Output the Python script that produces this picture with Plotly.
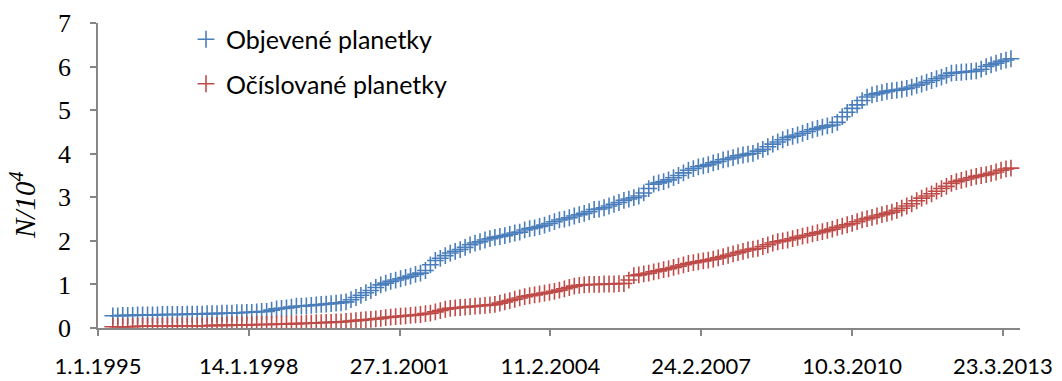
import pandas as pd
import plotly.graph_objects as go

# sampling: one value every 0.1 year from 1995.3 to 2013.4
start_date = "1995-04-20"
n_points = 182

objevene = [
    0.28, 0.28, 0.29, 0.29, 0.29, 0.30, 0.30,
    0.30, 0.30, 0.30, 0.31, 0.31, 0.31, 0.31, 0.31, 0.32, 0.32,
    0.32, 0.32, 0.33, 0.33, 0.33, 0.34, 0.34, 0.34, 0.35, 0.35,
    0.36, 0.36, 0.37, 0.38, 0.38, 0.41, 0.44, 0.45, 0.46, 0.48,
    0.50, 0.50, 0.51, 0.52, 0.53, 0.54, 0.55, 0.56, 0.57, 0.58,
    0.60, 0.65, 0.70, 0.75, 0.81, 0.86, 0.93, 0.99, 1.03, 1.07,
    1.10, 1.13, 1.16, 1.19, 1.23, 1.26, 1.32, 1.45, 1.55, 1.60,
    1.66, 1.72, 1.76, 1.80, 1.85, 1.91, 1.95, 1.98, 2.02, 2.05,
    2.08, 2.10, 2.12, 2.15, 2.18, 2.20, 2.25, 2.28, 2.30, 2.33,
    2.36, 2.40, 2.44, 2.48, 2.50, 2.53, 2.57, 2.60, 2.63, 2.67,
    2.72, 2.73, 2.76, 2.80, 2.84, 2.88, 2.93, 2.96, 2.99, 3.03,
    3.10, 3.20, 3.30, 3.33, 3.36, 3.40, 3.45, 3.50, 3.56, 3.62,
    3.66, 3.70, 3.72, 3.75, 3.79, 3.82, 3.86, 3.88, 3.91, 3.95,
    3.97, 3.99, 4.01, 4.06, 4.10, 4.16, 4.22, 4.27, 4.32, 4.37,
    4.40, 4.43, 4.47, 4.51, 4.55, 4.58, 4.61, 4.64, 4.66, 4.72,
    4.85, 4.95, 5.04, 5.12, 5.22, 5.30, 5.35, 5.38, 5.40, 5.43,
    5.45, 5.46, 5.48, 5.50, 5.53, 5.57, 5.60, 5.64, 5.68, 5.72,
    5.76, 5.80, 5.85, 5.86, 5.87, 5.88, 5.89, 5.90, 5.94, 6.00,
    6.04, 6.08, 6.12, 6.15, 6.18,
]

ocislovane = [
    0.03, 0.03, 0.03, 0.03, 0.03, 0.04, 0.04,
    0.04, 0.04, 0.04, 0.04, 0.04, 0.04, 0.05, 0.05, 0.05, 0.05,
    0.05, 0.05, 0.05, 0.06, 0.06, 0.06, 0.06, 0.07, 0.07, 0.07,
    0.07, 0.07, 0.08, 0.08, 0.08, 0.08, 0.09, 0.09, 0.09, 0.10,
    0.10, 0.10, 0.11, 0.11, 0.12, 0.12, 0.13, 0.13, 0.14, 0.14,
    0.15, 0.16, 0.17, 0.18, 0.19, 0.20, 0.21, 0.22, 0.24, 0.25,
    0.26, 0.27, 0.28, 0.29, 0.30, 0.31, 0.33, 0.34, 0.37, 0.40,
    0.43, 0.45, 0.46, 0.47, 0.48, 0.49, 0.50, 0.51, 0.52, 0.53,
    0.54, 0.57, 0.60, 0.63, 0.66, 0.69, 0.72, 0.74, 0.76, 0.78,
    0.80, 0.82, 0.84, 0.87, 0.90, 0.93, 0.96, 0.98, 0.99, 1.00,
    1.00, 1.00, 1.01, 1.01, 1.01, 1.02, 1.02, 1.10, 1.20, 1.22,
    1.24, 1.26, 1.29, 1.31, 1.34, 1.36, 1.39, 1.42, 1.45, 1.48,
    1.50, 1.52, 1.54, 1.56, 1.58, 1.61, 1.64, 1.67, 1.70, 1.73,
    1.76, 1.79, 1.81, 1.83, 1.87, 1.91, 1.95, 1.98, 2.00, 2.02,
    2.05, 2.08, 2.11, 2.13, 2.16, 2.19, 2.21, 2.24, 2.27, 2.31,
    2.34, 2.37, 2.40, 2.44, 2.48, 2.51, 2.54, 2.57, 2.60, 2.63,
    2.66, 2.70, 2.75, 2.80, 2.85, 2.92, 2.98, 3.03, 3.08, 3.14,
    3.20, 3.25, 3.32, 3.36, 3.39, 3.42, 3.45, 3.48, 3.50, 3.52,
    3.55, 3.58, 3.62, 3.65, 3.67,
]

tick_dates = ["1995-01-01", "1998-01-14", "2001-01-27", "2004-02-11",
              "2007-02-24", "2010-03-10", "2013-03-23"]
tick_labels = ["1.1.1995", "14.1.1998", "27.1.2001", "11.2.2004",
               "24.2.2007", "10.3.2010", "23.3.2013"]
y_ticks = [0, 1, 2, 3, 4, 5, 6, 7]

dates = pd.date_range(start_date, periods=n_points, freq="876h")

BLUE = "#4A7EBB"
RED = "#BE4B48"
AXIS = "#868686"

fig = go.Figure()
fig.add_trace(go.Scatter(
    x=dates, y=objevene, mode="markers", name="Objevené planetky",
    legendgroup="a",
    marker=dict(symbol="cross-thin", size=12, line=dict(color=BLUE, width=1.6), color=BLUE),
))
fig.add_trace(go.Scatter(
    x=dates, y=ocislovane, mode="markers", name="Očíslované planetky",
    legendgroup="b",
    marker=dict(symbol="cross-thin", size=12, line=dict(color=RED, width=1.6), color=RED),
))

fig.update_layout(
    width=1062, height=381,
    margin=dict(l=98, r=42, t=23, b=53, autoexpand=False),
    paper_bgcolor="white", plot_bgcolor="white",
    showlegend=True,
    legend=dict(
        x=(186 - 98) / 922, xanchor="left",
        yref="container", y=1 - 16.5 / 381, yanchor="top",
        font=dict(family="Lato, Open Sans, sans-serif", size=25, color="#000000"),
        traceorder="grouped", tracegroupgap=9,
        bgcolor="rgba(0,0,0,0)", itemwidth=30,
    ),
    xaxis=dict(
        type="date", automargin=False,
        range=["1995-01-01", "2013-07-27"],
        tickmode="array", tickvals=tick_dates, ticktext=tick_labels,
        showgrid=False, zeroline=False,
        showline=True, linecolor=AXIS, linewidth=1.5,
        ticks="outside", ticklen=6, tickcolor=AXIS, tickwidth=1.5,
        ticklabelstandoff=12,
        tickfont=dict(family="Lato, Open Sans, sans-serif", size=22, color="#000000"),
    ),
    yaxis=dict(
        range=[0, 7], automargin=False,
        tickmode="array", tickvals=y_ticks,
        showgrid=False, zeroline=False,
        showline=True, linecolor=AXIS, linewidth=1.5,
        ticks="outside", ticklen=6, tickcolor=AXIS, tickwidth=1.5,
        ticklabelstandoff=14,
        tickfont=dict(family="Liberation Serif, DejaVu Serif, serif", size=26, color="#000000"),
    ),
    annotations=[dict(
        text="<i>N/10<sup>4</sup></i>",
        x=(23 - 98) / 922, y=(328 - 205) / 305, xref="paper", yref="paper",
        xanchor="center", yanchor="middle", showarrow=False, textangle=-90,
        font=dict(family="Liberation Serif, DejaVu Serif, serif", size=29, color="#000000"),
    )],
)

fig.write_html("out.html")
